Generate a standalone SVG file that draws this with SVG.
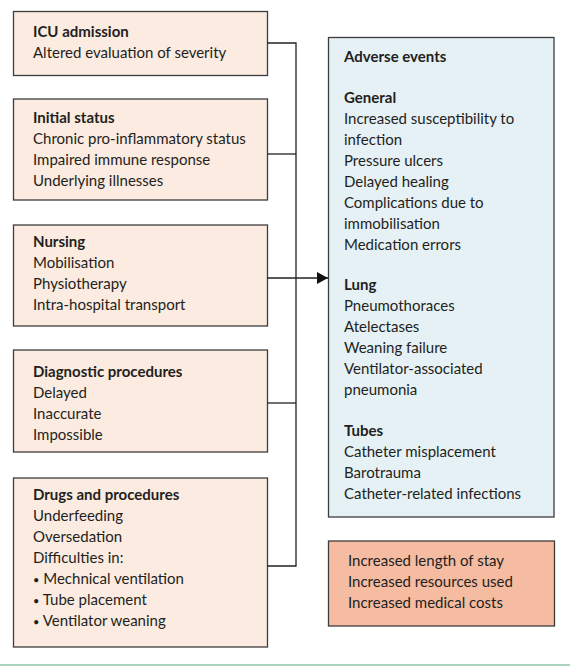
<svg xmlns="http://www.w3.org/2000/svg" width="570" height="669" viewBox="0 0 570 669">
<style>
.box{fill:#fcebe0;stroke:#3d3d3d;stroke-width:1.3}
.blue{fill:#e6f1f6;stroke:#3d3d3d;stroke-width:1.3}
.salmon{fill:#f5bca2;stroke:#3d3d3d;stroke-width:1.3}
text{font-family:Lato,"Open Sans",sans-serif;font-size:15px;fill:#231f20}
.h{font-weight:bold}
.b{font-size:11px}
.conn{fill:none;stroke:#222;stroke-width:1.3}
</style>
<defs>
<marker id="arr" markerWidth="12" markerHeight="12" refX="11" refY="6" orient="auto" markerUnits="userSpaceOnUse">
<path d="M0,0 L11,6 L0,12 Z" fill="#111"/>
</marker>
</defs>
<rect width="570" height="669" fill="#fff"/>
<g id="icu">
<rect class="box" x="13.5" y="11.5" width="254" height="64"/>
<text x="33" y="37" class="h">ICU admission</text>
<text x="33" y="58">Altered evaluation of severity</text>
</g>
<g id="initial">
<rect class="box" x="13.5" y="99" width="254" height="101"/>
<text x="33" y="123" class="h">Initial status</text>
<text x="33" y="144">Chronic pro-inflammatory status</text>
<text x="33" y="165">Impaired immune response</text>
<text x="33" y="186">Underlying illnesses</text>
</g>
<g id="nursing">
<rect class="box" x="13.5" y="225" width="254" height="101"/>
<text x="33" y="247" class="h">Nursing</text>
<text x="33" y="268">Mobilisation</text>
<text x="33" y="289">Physiotherapy</text>
<text x="33" y="310">Intra-hospital transport</text>
</g>
<g id="diagnostic">
<rect class="box" x="13.5" y="350" width="254" height="102"/>
<text x="33" y="377" class="h">Diagnostic procedures</text>
<text x="33" y="398">Delayed</text>
<text x="33" y="419">Inaccurate</text>
<text x="33" y="440">Impossible</text>
</g>
<g id="drugs">
<rect class="box" x="13.5" y="478" width="254" height="169"/>
<text x="33" y="500" class="h">Drugs and procedures</text>
<text x="33" y="521">Underfeeding</text>
<text x="33" y="542">Oversedation</text>
<text x="33" y="563">Difficulties in:</text>
<text x="33" y="584"><tspan class="b">•</tspan> Mechnical ventilation</text>
<text x="33" y="605"><tspan class="b">•</tspan> Tube placement</text>
<text x="33" y="626"><tspan class="b">•</tspan> Ventilator weaning</text>
</g>
<g id="adverse">
<rect class="blue" x="328.5" y="37.5" width="225.5" height="479.5"/>
<text x="344" y="62" class="h">Adverse events</text>
<text x="344" y="103" class="h">General</text>
<text x="344" y="124">Increased susceptibility to</text>
<text x="344" y="145">infection</text>
<text x="344" y="166">Pressure ulcers</text>
<text x="344" y="187">Delayed healing</text>
<text x="344" y="208">Complications due to</text>
<text x="344" y="229">immobilisation</text>
<text x="344" y="250">Medication errors</text>
<text x="344" y="290" class="h">Lung</text>
<text x="344" y="311">Pneumothoraces</text>
<text x="344" y="332">Atelectases</text>
<text x="344" y="353">Weaning failure</text>
<text x="344" y="374">Ventilator-associated</text>
<text x="344" y="395">pneumonia</text>
<text x="344" y="436" class="h">Tubes</text>
<text x="344" y="457">Catheter misplacement</text>
<text x="344" y="478">Barotrauma</text>
<text x="344" y="499">Catheter-related infections</text>
</g>
<g id="outcomes">
<rect class="salmon" x="328.5" y="541" width="226" height="85"/>
<text x="348" y="566">Increased length of stay</text>
<text x="348" y="587">Increased resources used</text>
<text x="348" y="608">Increased medical costs</text>
</g>
<g id="connectors">
<path class="conn" d="M267.5,43 H296 V566 H267.5"/>
<path class="conn" d="M267.5,154 H296"/>
<path class="conn" d="M267.5,403 H296"/>
<path class="conn" d="M267.5,278 H328" marker-end="url(#arr)"/>
</g>
<line x1="0" y1="665" x2="570" y2="665" stroke="#a9d3bd" stroke-width="2"/>
</svg>
